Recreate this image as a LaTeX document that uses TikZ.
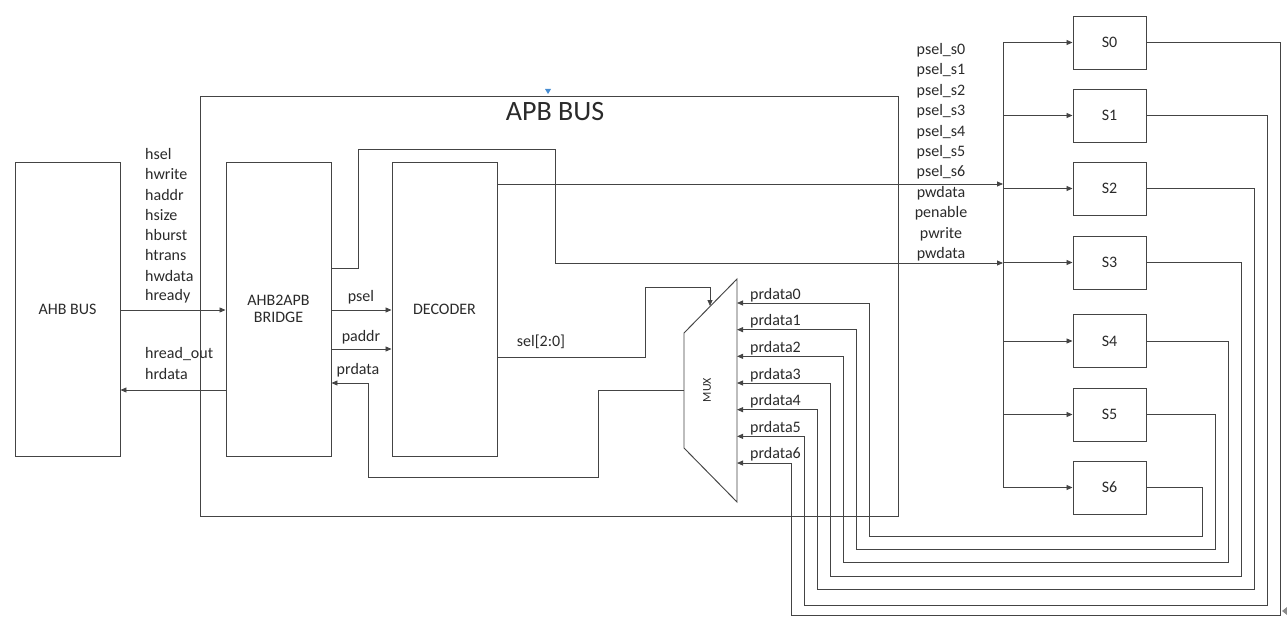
\documentclass[tikz,border=0pt]{standalone}
\usepackage{fontspec}
\setmainfont{Carlito}
\usetikzlibrary{arrows.meta}
\definecolor{ln}{HTML}{444444}
\definecolor{tx}{HTML}{2A2A2A}
\begin{document}
\begin{tikzpicture}[x=1pt,y=-1pt,
  box/.style={draw=ln,line width=0.95pt,minimum width=105pt,minimum height=294pt,inner sep=0pt,text=tx,
    font=\fontsize{16}{19}\selectfont,align=center},
  slave/.style={draw=ln,line width=0.95pt,minimum width=73pt,minimum height=53pt,inner sep=0pt,text=tx,
    font=\fontsize{16}{19}\selectfont},
  wire/.style={draw=ln,line width=0.85pt},
  arr/.style={wire,-{Triangle[length=6pt,width=5pt]}},
  lbl/.style={text=tx,font=\fontsize{16}{19}\selectfont,inner sep=0pt},
  lbll/.style={lbl,anchor=west}]
\useasboundingbox (0,0) rectangle (1287,623);
% APB BUS frame
\node[draw=ln,line width=0.95pt,minimum width=698pt,minimum height=420pt,inner sep=0pt] (apb) at (549,306) {};
\node[text=tx,font=\fontsize{28}{31}\selectfont,inner sep=0pt] (apbt) at (555,112) {APB BUS};
\fill[fill={rgb,255:red,70;green,140;blue,210}] (545,89) -- (551,89) -- (548,94) -- cycle;
% main blocks
\node[box] (ahb) at (67.5,309) {AHB BUS};
\node[box] (bridge) at (278.5,309) {AHB2APB\\[-2pt]BRIDGE};
\node[box] (dec) at (444.5,309) {DECODER};
% MUX
\coordinate (m1) at (684,333);
\coordinate (m2) at (737,279);
\coordinate (m3) at (737,502);
\coordinate (m4) at (684,448);
\draw[draw=ln,line width=0.95pt] (m1) -- (m2) -- (m3) -- (m4) -- cycle;
\node[text=tx,font=\fontsize{12}{13}\selectfont,rotate=90,inner sep=0pt] (muxl) at (707,390) {MUX};
\coordinate (muxin) at (684,390);
\coordinate (muxsel) at (710,306);
% slaves
\foreach \n/\y in {0/42.5,1/115.5,2/188.5,3/262.5,4/341,5/414.5,6/487.5}{
  \node[slave] (s\n) at (1109.5,\y) {S\n};
}
% AHB <-> bridge
\draw[arr] (ahb.east |- 0,310) -- (bridge.west |- 0,310);
\draw[arr] (bridge.west |- 0,390) -- (ahb.east |- 0,390);
\foreach \t [count=\i from 0] in {hsel,hwrite,haddr,hsize,hburst,htrans,hwdata,hready}{
  \node[lbll] (hl\i) at (145,{154+20.3*\i}) {\t};
}
\node[lbll] (hro) at (145,354) {hread\_out};
\node[lbll] (hrd) at (145,374) {hrdata};
% bridge -> decoder
\draw[arr] (bridge.east |- 0,310) -- (dec.west |- 0,310);
\draw[arr] (bridge.east |- 0,349) -- (dec.west |- 0,349);
\node[lbl] (psl) at (361,297) {psel};
\node[lbl] (pad) at (361,337) {paddr};
\node[lbl] (prd) at (358,370) {prdata};
% prdata back from mux
\draw[arr] (muxin) -- (598,390) -- (598,477) -- (368,477) -- (368,383) -- (bridge.east |- 0,383);
% sel
\draw[arr] (dec.east |- 0,357) -- (645,357) -- (645,287) -- (710,287) -- (muxsel);
\node[lbl] (sell) at (541,342) {sel[2:0]};
% to slave bus
\coordinate (bus1) at (1003,184);
\coordinate (bus2) at (1003,263);
\draw[arr] (dec.east |- 0,184) -- (bus1);
\draw[arr] (bridge.east |- 0,268) -- (358,268) -- (358,149) -- (555,149) -- (555,263) -- (bus2);
\coordinate (bt) at (1003,42.5);
\coordinate (bb) at (1003,487.5);
\draw[wire] (bt) -- (bb);
\foreach \n in {0,...,6}{
  \draw[arr] (bt |- s\n.west) -- (s\n.west);
}
\foreach \t [count=\i from 0] in {psel\_s0,psel\_s1,psel\_s2,psel\_s3,psel\_s4,psel\_s5,psel\_s6,pwdata,penable,pwrite,pwdata}{
  \node[lbl] (pl\i) at (941,{50+20.45*\i}) {\t};
}
% prdata feedback
\foreach \i/\k/\xr/\yb in {0/6/1202/536,1/5/1215/549,2/4/1228/562,3/3/1241/576,4/2/1254/589,5/1/1267/605,6/0/1280/615}{
  \pgfmathsetmacro{\xi}{869-13*\i}
  \pgfmathsetmacro{\yi}{303+26.67*\i}
  \coordinate (pin\i) at (737,\yi);
  \draw[arr] (s\k.east) -- (s\k.east -| \xr,0) -- (\xr,\yb) -- (\xi,\yb) -- (\xi,\yi) -- (pin\i);
  \node[lbll] (pdl\i) at (750,{295+26.6*\i}) {prdata\i};
}
\fill[black!45] (1282,611) -- (1287,607) -- (1287,615) -- cycle;
\end{tikzpicture}
\end{document}
